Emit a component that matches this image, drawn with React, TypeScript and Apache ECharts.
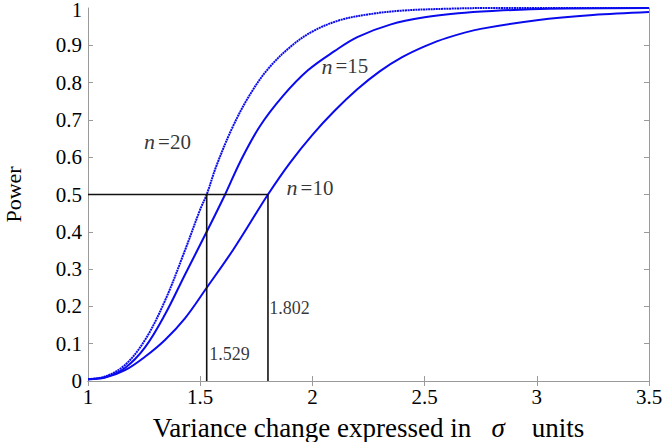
import React, { useEffect, useRef } from "react";
import * as echarts from "echarts";

const xTicks = [1, 1.5, 2, 2.5, 3, 3.5];
const yTicks = [0, 0.1, 0.2, 0.3, 0.4, 0.5, 0.6, 0.7, 0.8, 0.9, 1];

const n20: [number, number][] = [
  [1.0, 0.005], [1.076, 0.012], [1.165, 0.043], [1.254, 0.11], [1.343, 0.215],
  [1.432, 0.35], [1.5, 0.46], [1.529, 0.5], [1.573, 0.578], [1.647, 0.684],
  [1.722, 0.768], [1.8, 0.835], [1.9, 0.895], [2.0, 0.937], [2.12, 0.967],
  [2.25, 0.983], [2.4, 0.993], [2.6, 0.998], [2.8, 1.0], [3.5, 1.0],
];
const n15: [number, number][] = [
  [1.0, 0.005], [1.076, 0.01], [1.165, 0.035], [1.254, 0.09], [1.343, 0.178],
  [1.432, 0.285], [1.529, 0.4], [1.611, 0.5], [1.68, 0.59], [1.766, 0.683],
  [1.87, 0.765], [1.98, 0.833], [2.1, 0.885], [2.2, 0.922], [2.35, 0.956],
  [2.5, 0.975], [2.65, 0.986], [2.8, 0.992], [3.05, 0.998], [3.5, 1.0],
];
const n10: [number, number][] = [
  [1.0, 0.005], [1.076, 0.009], [1.165, 0.029], [1.254, 0.065], [1.343, 0.11],
  [1.432, 0.168], [1.529, 0.25], [1.647, 0.352], [1.802, 0.5], [1.9, 0.585],
  [2.0, 0.66], [2.1, 0.725], [2.2, 0.782], [2.3, 0.83], [2.4, 0.868],
  [2.5, 0.897], [2.6, 0.92], [2.75, 0.944], [3.0, 0.967], [3.25, 0.981],
  [3.5, 0.989],
];
const refH: [number, number][] = [[1, 0.5], [1.802, 0.5]];
const ref1: [number, number][] = [[1.529, 0], [1.529, 0.5]];
const ref2: [number, number][] = [[1.802, 0], [1.802, 0.5]];

const curveLabels = [
  { text: "20", x: 1.25, y: 0.642 },
  { text: "15", x: 2.04, y: 0.844 },
  { text: "10", x: 1.885, y: 0.518 },
];
const valueLabels = [
  { text: "1.802", x: 1.808, y: 0.196 },
  { text: "1.529", x: 1.54, y: 0.072 },
];
const topYLabel = "1";

const FONT = "Liberation Serif";
const BLUE = "#0a0aee";

export default function App() {
  const ref = useRef<HTMLDivElement>(null);
  useEffect(() => {
    if (!ref.current) return;
    const chart = echarts.init(ref.current, undefined, { renderer: "svg" });
    const axisLine = { show: true, lineStyle: { color: "#9a9a9a", width: 1 } };
    const tick = { show: true, inside: true, length: 5, lineStyle: { color: "#9a9a9a" } };
    const mkCurve = (name: string, data: [number, number][], dotted = false) => ({
      name,
      type: "line",
      data,
      smooth: 0.35,
      symbol: "none",
      lineStyle: { color: BLUE, width: 2, type: dotted ? [2, 0.6] : "solid" },
      z: 3,
    });
    const mkRef = (data: [number, number][]) => ({
      type: "line",
      data,
      symbol: "none",
      lineStyle: { color: "#111", width: 1.6 },
      z: 4,
    });
    const labelSeries = {
      type: "scatter",
      symbolSize: 0,
      data: curveLabels.map((l) => ({ value: [l.x, l.y], name: l.text })),
      label: {
        show: true,
        position: "right",
        distance: 0,
        fontFamily: FONT,
        formatter: (p: any) => "{i|n} {t|=" + p.name + "}",
        rich: {
          i: { fontStyle: "italic", fontFamily: FONT, fontSize: 22, color: "#000" },
          t: { fontFamily: FONT, fontSize: 21, color: "#000" },
        },
      },
      z: 5,
      silent: true,
    };
    const valSeries = {
      type: "scatter",
      symbolSize: 0,
      data: valueLabels.map((l) => ({ value: [l.x, l.y], name: l.text })),
      label: {
        show: true,
        position: "right",
        distance: 0,
        formatter: (p: any) => p.name,
        fontFamily: FONT,
        fontSize: 18,
        color: "#000",
      },
      z: 5,
      silent: true,
    };
    chart.setOption({
      animation: false,
      backgroundColor: "#fff",
      grid: { left: 88, right: 16, top: 8, bottom: 61, containLabel: false, outerBoundsMode: "none" },
      graphic: [
        {
          type: "text",
          right: 665 - 82,
          top: 0,
          style: { text: topYLabel, fontFamily: FONT, fontSize: 20, fill: "#000" },
        },
      ],
      xAxis: [
        {
          type: "value",
          min: 1,
          max: 3.5,
          interval: 0.5,
          axisLine,
          axisTick: tick,
          splitLine: { show: false },
          axisLabel: {
            fontFamily: FONT,
            fontSize: 21,
            color: "#000",
            margin: 5,
            formatter: (v: number) => String(Math.round(v * 10) / 10),
          },
          name: "{t|Variance change expressed in}   {i|σ}    {t|units}",
          nameLocation: "middle",
          nameGap: 33,
          nameTextStyle: {
            fontFamily: FONT,
            fontSize: 27,
            color: "#000",
            rich: {
              t: { fontFamily: FONT, fontSize: 27, color: "#000" },
              i: { fontStyle: "italic", fontFamily: FONT, fontSize: 27, color: "#000" },
            },
          },
        },
        {
          type: "value",
          position: "top",
          min: 1,
          max: 3.5,
          interval: 0.5,
          axisLine,
          axisTick: tick,
          axisLabel: { show: false },
          splitLine: { show: false },
        },
      ],
      yAxis: [
        {
          type: "value",
          min: 0,
          max: 1,
          interval: 0.1,
          axisLine,
          axisTick: tick,
          splitLine: { show: false },
          axisLabel: {
            fontFamily: FONT,
            fontSize: 21,
            color: "#000",
            margin: 6,
            showMaxLabel: false,
            formatter: (v: number) => (v >= 0.99 ? "" : String(Math.round(v * 10) / 10)),
          },
          name: "Power",
          nameLocation: "middle",
          nameGap: 64,
          nameTextStyle: { fontFamily: FONT, fontSize: 22, color: "#000" },
        },
        {
          type: "value",
          position: "right",
          min: 0,
          max: 1,
          interval: 0.1,
          axisLine,
          axisTick: tick,
          axisLabel: { show: false },
          splitLine: { show: false },
        },
      ],
      series: [
        mkCurve("n=20", n20, true),
        mkCurve("n=15", n15),
        mkCurve("n=10", n10),
        mkRef(refH),
        mkRef(ref1),
        mkRef(ref2),
        labelSeries,
        valSeries,
      ],
    });
    return () => chart.dispose();
  }, []);
  return <div ref={ref} style={{ width: 665, height: 442, position: "absolute", left: 0, top: 0 }} />;
}
